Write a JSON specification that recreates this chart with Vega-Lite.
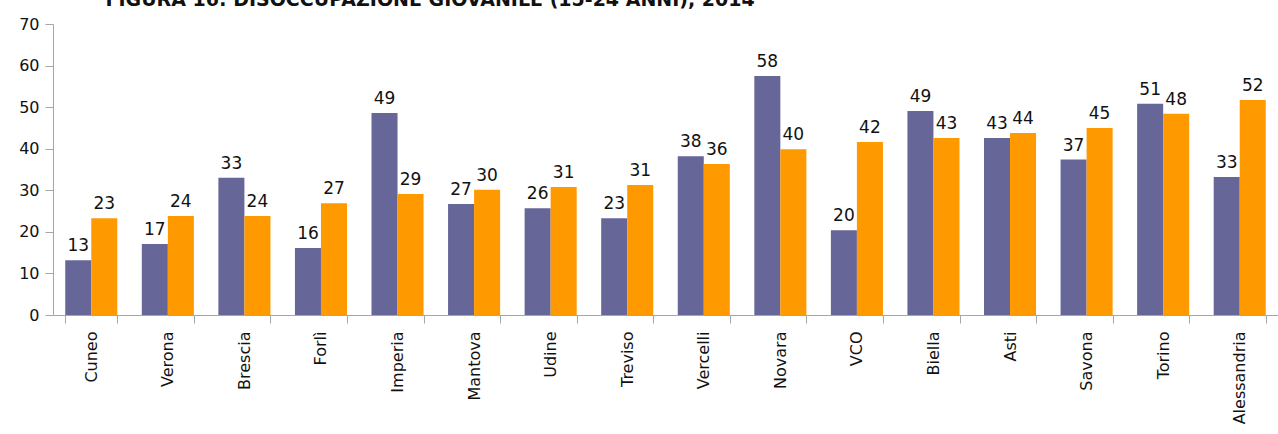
{
  "$schema": "https://vega.github.io/schema/vega-lite/v6.json",
  "width": 1225,
  "height": 291,
  "autosize": {"type": "none"},
  "padding": {"left": 53, "top": 24, "right": 0, "bottom": 119},
  "background": "white",
  "config": {"view": {"stroke": null}, "font": "DejaVu Sans"},
  "data": {
    "values": [
      {"citta": "Cuneo", "serie": "Serie 1", "valore": 13.2},
      {"citta": "Cuneo", "serie": "Serie 2", "valore": 23.3},
      {"citta": "Verona", "serie": "Serie 1", "valore": 17.1},
      {"citta": "Verona", "serie": "Serie 2", "valore": 23.8},
      {"citta": "Brescia", "serie": "Serie 1", "valore": 33.0},
      {"citta": "Brescia", "serie": "Serie 2", "valore": 23.8},
      {"citta": "Forlì", "serie": "Serie 1", "valore": 16.1},
      {"citta": "Forlì", "serie": "Serie 2", "valore": 26.9},
      {"citta": "Imperia", "serie": "Serie 1", "valore": 48.6},
      {"citta": "Imperia", "serie": "Serie 2", "valore": 29.1},
      {"citta": "Mantova", "serie": "Serie 1", "valore": 26.7},
      {"citta": "Mantova", "serie": "Serie 2", "valore": 30.1},
      {"citta": "Udine", "serie": "Serie 1", "valore": 25.7},
      {"citta": "Udine", "serie": "Serie 2", "valore": 30.8},
      {"citta": "Treviso", "serie": "Serie 1", "valore": 23.3},
      {"citta": "Treviso", "serie": "Serie 2", "valore": 31.3},
      {"citta": "Vercelli", "serie": "Serie 1", "valore": 38.2},
      {"citta": "Vercelli", "serie": "Serie 2", "valore": 36.3},
      {"citta": "Novara", "serie": "Serie 1", "valore": 57.5},
      {"citta": "Novara", "serie": "Serie 2", "valore": 39.9},
      {"citta": "VCO", "serie": "Serie 1", "valore": 20.4},
      {"citta": "VCO", "serie": "Serie 2", "valore": 41.6},
      {"citta": "Biella", "serie": "Serie 1", "valore": 49.1},
      {"citta": "Biella", "serie": "Serie 2", "valore": 42.6},
      {"citta": "Asti", "serie": "Serie 1", "valore": 42.6},
      {"citta": "Asti", "serie": "Serie 2", "valore": 43.8},
      {"citta": "Savona", "serie": "Serie 1", "valore": 37.4},
      {"citta": "Savona", "serie": "Serie 2", "valore": 45.0},
      {"citta": "Torino", "serie": "Serie 1", "valore": 50.8},
      {"citta": "Torino", "serie": "Serie 2", "valore": 48.4},
      {"citta": "Alessandria", "serie": "Serie 1", "valore": 33.2},
      {"citta": "Alessandria", "serie": "Serie 2", "valore": 51.7}
    ]
  },
  "encoding": {
    "x": {
      "field": "citta",
      "type": "nominal",
      "sort": null,
      "scale": {"paddingInner": 0.32, "paddingOuter": 0.16},
      "axis": {
        "title": null,
        "labelAngle": -90,
        "labelAlign": "right",
        "labelBaseline": "middle",
        "labelFontSize": 16,
        "labelColor": "#111111",
        "labelPadding": 8,
        "domainColor": "#a6a6a6",
        "tickColor": "#a6a6a6",
        "tickBand": "extent",
        "tickSize": 8
      }
    },
    "xOffset": {"field": "serie", "type": "nominal"},
    "y": {
      "field": "valore",
      "type": "quantitative",
      "scale": {"domain": [0, 70], "nice": false},
      "axis": {
        "title": "FIGURA 16: DISOCCUPAZIONE GIOVANILE (15-24 ANNI), 2014",
        "titleAngle": 0,
        "titleAlign": "left",
        "titleBaseline": "alphabetic",
        "titleX": 52,
        "titleY": -19,
        "titleFont": "DejaVu Sans",
        "titleFontSize": 19,
        "titleFontWeight": "bold",
        "titleColor": "#111111",
        "values": [0, 10, 20, 30, 40, 50, 60, 70],
        "grid": false,
        "labelFontSize": 16,
        "labelColor": "#111111",
        "labelPadding": 6,
        "domainColor": "#a6a6a6",
        "tickColor": "#a6a6a6",
        "tickSize": 8
      }
    }
  },
  "layer": [
    {
      "mark": {"type": "bar"},
      "encoding": {
        "color": {
          "field": "serie",
          "type": "nominal",
          "scale": {"range": ["#666699", "#FF9900"]},
          "legend": null
        }
      }
    },
    {
      "mark": {"type": "text", "baseline": "bottom", "dy": -5, "fontSize": 17, "color": "#111111"},
      "encoding": {
        "text": {"field": "valore", "type": "quantitative", "format": ".0f"}
      }
    }
  ]
}
